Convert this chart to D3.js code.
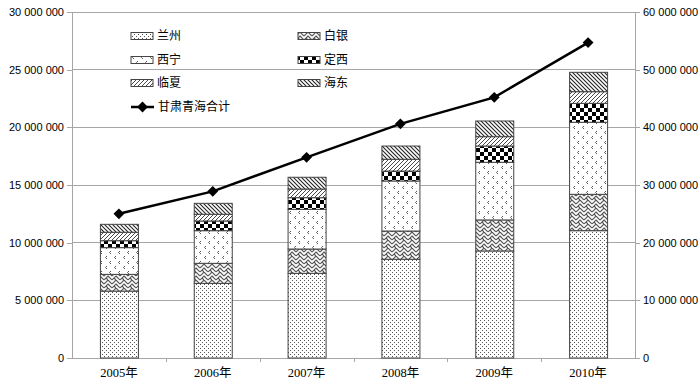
<!DOCTYPE html>
<html><head><meta charset="utf-8">
<script src="https://cdn.jsdelivr.net/npm/d3@7"></script>
<style>
html,body{margin:0;padding:0;background:#fff;}
svg{display:block;}
</style></head>
<body>
<svg id="chart" width="700" height="383"></svg>
<script>
// ---- data ----
const years = ["2005年","2006年","2007年","2008年","2009年","2010年"];
const seriesNames = ["兰州","白银","西宁","定西","临夏","海东"];
const lanzhou = [5800000, 6470000, 7340000, 8560000, 9280000, 11040000];
const baiyin  = [1450000, 1740000, 2110000, 2450000, 2690000, 3150000];
const xining  = [2320000, 2830000, 3440000, 4340000, 5000000, 6250000];
const dingxi  = [600000, 840000, 1010000, 860000, 1410000, 1640000];
const linxia  = [730000, 580000, 750000, 1020000, 810000, 1010000];
const haidong = [690000, 950000, 1020000, 1150000, 1360000, 1680000];
const lineName = "甘肃青海合计";
const totalGQ = [25000000, 28900000, 34800000, 40600000, 45200000, 54700000];
const leftTicks = [0, 5000000, 10000000, 15000000, 20000000, 25000000, 30000000];
const rightTicks = [0, 10000000, 20000000, 30000000, 40000000, 50000000, 60000000];

const seriesValues = [lanzhou, baiyin, xining, dingxi, linxia, haidong];
const patIds = ["p-lz","p-by","p-xn","p-dx","p-lx","p-hd"];

const svg = d3.select("#chart");
const L = 72, R = 635, T = 12, B = 358;

// patterns
const defs = svg.append("defs");
function pat(id, w, h){ return defs.append("pattern").attr("id", id).attr("patternUnits","userSpaceOnUse").attr("width", w).attr("height", h); }
// 兰州: fine dots
{ const p = pat("p-lz", 4, 4);
  p.append("rect").attr("width",4).attr("height",4).attr("fill","#fff");
  p.append("rect").attr("x",0).attr("y",0).attr("width",1).attr("height",1).attr("fill","#555");
  p.append("rect").attr("x",2).attr("y",2).attr("width",1).attr("height",1).attr("fill","#555"); }
// 白银: weave / herringbone
{ const p = pat("p-by", 8, 8);
  p.append("rect").attr("width",8).attr("height",8).attr("fill","#fff");
  p.append("path").attr("d","M0,4 L4,0 L8,4 M0,8 L4,4 L8,8 M-2,2 L0,0 M8,0 L10,2 M2,6 L4,8 M4,4 L6,6")
    .attr("stroke","#555").attr("stroke-width",1.1).attr("fill","none"); }
// 西宁: sparse chevrons
{ const p = pat("p-xn", 9, 10);
  p.append("rect").attr("width",9).attr("height",10).attr("fill","#fff");
  p.append("path").attr("d","M3,1 L1.5,2.5 L3,4 M8,6 L6.5,7.5 L8,9").attr("stroke","#444").attr("stroke-width",0.9).attr("fill","none"); }
// 定西: checkerboard
{ const p = pat("p-dx", 8, 8);
  p.append("rect").attr("width",8).attr("height",8).attr("fill","#fff");
  p.append("rect").attr("x",0).attr("y",0).attr("width",4).attr("height",4).attr("fill","#000");
  p.append("rect").attr("x",4).attr("y",4).attr("width",4).attr("height",4).attr("fill","#000"); }
// 临夏: forward diagonal
{ const p = pat("p-lx", 4, 4);
  p.append("rect").attr("width",4).attr("height",4).attr("fill","#fff");
  p.append("path").attr("d","M-1,1 L1,-1 M0,4 L4,0 M3,5 L5,3").attr("stroke","#333").attr("stroke-width",0.9); }
// 海东: backward diagonal
{ const p = pat("p-hd", 4, 4);
  p.append("rect").attr("width",4).attr("height",4).attr("fill","#fff");
  p.append("path").attr("d","M-1,3 L1,5 M0,0 L4,4 M3,-1 L5,1").attr("stroke","#222").attr("stroke-width",1.1); }

// scales
const x = d3.scaleBand().domain(years).range([L, R]).paddingInner(0.595).paddingOuter(0.2975);
const yL = d3.scaleLinear().domain([0, 30000000]).range([B, T]);
const yR = d3.scaleLinear().domain([0, 60000000]).range([B, T]);
const fmt = d3.formatLocale({decimal:".", thousands:" ", grouping:[3], currency:["",""]}).format(",");

// gridlines
svg.append("g").selectAll("line").data(leftTicks.filter(d=>d>0)).join("line")
  .attr("x1", L).attr("x2", R).attr("y1", d=>yL(d)).attr("y2", d=>yL(d))
  .attr("stroke","#a6a6a6").attr("stroke-width",1).attr("shape-rendering","crispEdges");

// axes
const axL = svg.append("g").attr("transform",`translate(${L},0)`)
  .call(d3.axisLeft(yL).tickValues(leftTicks).tickFormat(fmt).tickSize(5).tickPadding(3));
const axR = svg.append("g").attr("transform",`translate(${R},0)`)
  .call(d3.axisRight(yR).tickValues(rightTicks).tickFormat(fmt).tickSize(5).tickPadding(3));
[axL, axR].forEach(a=>{
  a.select(".domain").attr("stroke","#a6a6a6").attr("shape-rendering","crispEdges");
  a.selectAll(".tick line").attr("stroke","#a6a6a6").attr("shape-rendering","crispEdges");
  a.selectAll("text").attr("font-family","Liberation Sans, Arial, sans-serif").attr("font-size",11).attr("fill","#000");
});
// x axis
const axX = svg.append("g").attr("transform",`translate(0,${B})`)
  .call(d3.axisBottom(x).tickSize(0).tickPadding(10));
axX.select(".domain").attr("stroke","#a6a6a6").attr("shape-rendering","crispEdges");
axX.selectAll("text").attr("font-family","Liberation Serif, 'Noto Sans CJK SC', serif").attr("font-size",12.5).attr("fill","#000");
// x boundary ticks
const bounds = d3.range(years.length + 1).map(i => L + i * (R - L) / years.length);
svg.append("g").selectAll("line").data(bounds.slice(1, -1)).join("line")
  .attr("x1", d=>Math.round(d)+0.5).attr("x2", d=>Math.round(d)+0.5).attr("y1", B).attr("y2", B+4)
  .attr("stroke","#a6a6a6");

// stacked bars
const rows = years.map((yr, i) => { const o = {year: yr}; seriesNames.forEach((s, k) => o[s] = seriesValues[k][i]); return o; });
const stacked = d3.stack().keys(seriesNames)(rows);
svg.append("g").selectAll("g").data(stacked).join("g")
  .attr("fill", (d, k) => `url(#${patIds[k]})`)
  .selectAll("rect").data(d => d).join("rect")
  .attr("x", d => x(d.data.year) + 0.5)
  .attr("width", x.bandwidth())
  .attr("y", d => yL(d[1]))
  .attr("height", d => yL(d[0]) - yL(d[1]))
  .attr("stroke","#444").attr("stroke-width",1);

// line
const cx = d => x(d) + x.bandwidth()/2;
svg.append("path").datum(totalGQ)
  .attr("d", d3.line().x((d,i)=>cx(years[i])).y(d=>yR(d)))
  .attr("fill","none").attr("stroke","#000").attr("stroke-width",2.5);
const diamond = d3.symbol().type(d3.symbolDiamond2).size(75);
svg.append("g").selectAll("path").data(totalGQ).join("path")
  .attr("transform",(d,i)=>`translate(${cx(years[i])},${yR(d)})`)
  .attr("d", diamond()).attr("fill","#000");

// legend
const legFont = "'Noto Sans CJK SC', sans-serif";
const legItems = [
  {name:"兰州", k:0, x:131, y:36}, {name:"白银", k:1, x:298, y:36},
  {name:"西宁", k:2, x:131, y:60}, {name:"定西", k:3, x:298, y:60},
  {name:"临夏", k:4, x:131, y:83}, {name:"海东", k:5, x:298, y:83}
];
const lg = svg.append("g");
legItems.forEach(it => {
  lg.append("rect").attr("x", it.x).attr("y", it.y - 3.5).attr("width", 22).attr("height", 7)
    .attr("fill", `url(#${patIds[it.k]})`).attr("stroke","#444").attr("stroke-width",1);
  lg.append("text").attr("x", it.x + 26).attr("y", it.y).attr("dy","0.36em")
    .attr("font-family", legFont).attr("font-size",12).attr("fill","#000").text(it.name);
});
lg.append("line").attr("x1",131).attr("x2",154).attr("y1",107).attr("y2",107).attr("stroke","#000").attr("stroke-width",2.5);
lg.append("path").attr("transform","translate(142.5,107)").attr("d", diamond()).attr("fill","#000");
lg.append("text").attr("x",158).attr("y",107).attr("dy","0.36em")
  .attr("font-family", legFont).attr("font-size",12).attr("fill","#000").text(lineName);
</script>
</body></html>
